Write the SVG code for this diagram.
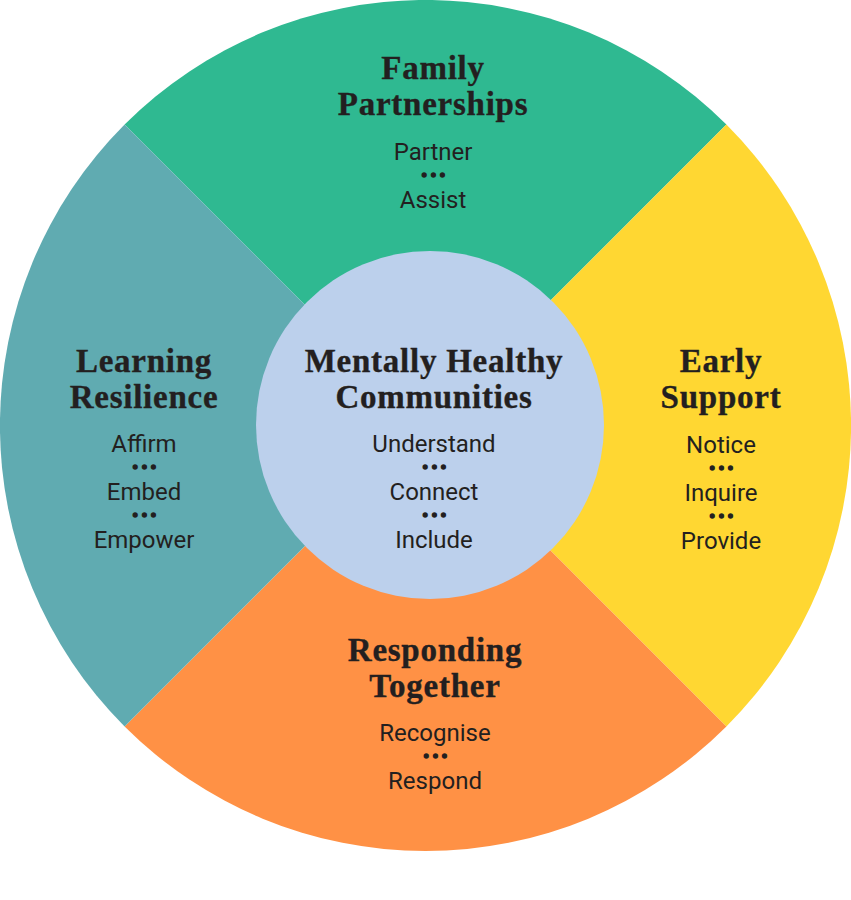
<svg xmlns="http://www.w3.org/2000/svg" width="851" height="900" viewBox="0 0 851 900">
<style>
.t{font-family:"Liberation Serif","DejaVu Serif",serif;font-weight:700;font-size:33px;fill:#231f20;stroke:#231f20;stroke-width:.35px;text-anchor:middle;letter-spacing:.75px}
.s{font-family:Roboto,"Liberation Sans",sans-serif;font-size:24px;fill:#231f20;text-anchor:middle}
.d{font-family:Roboto,"Liberation Sans",sans-serif;font-size:16px;font-weight:700;fill:#231f20;stroke:#231f20;stroke-width:1.6px;text-anchor:middle;letter-spacing:3.4px}
</style>
<g id="family-partnerships">
<path d="M425.5 425.5L124.6 124.6A425.5 425.5 0 0 1 726.4 124.6Z" fill="#2fb991"/>
<text class="t" x="433" y="79">Family</text><text class="t" x="433" y="115">Partnerships</text>
<text class="s" x="433" y="160">Partner</text><text class="d" x="435" y="181">•••</text><text class="s" x="433" y="208">Assist</text>
</g>
<g id="early-support">
<path d="M425.5 425.5L726.4 124.6A425.5 425.5 0 0 1 726.4 726.4Z" fill="#ffd732"/>
<text class="t" x="721" y="372">Early</text><text class="t" x="721" y="408">Support</text>
<text class="s" x="721" y="453">Notice</text><text class="d" x="723" y="474">•••</text><text class="s" x="721" y="501">Inquire</text><text class="d" x="723" y="522">•••</text><text class="s" x="721" y="549">Provide</text>
</g>
<g id="responding-together">
<path d="M425.5 425.5L726.4 726.4A425.5 425.5 0 0 1 124.6 726.4Z" fill="#ff9145"/>
<text class="t" x="435" y="661">Responding</text><text class="t" x="435" y="697">Together</text>
<text class="s" x="435" y="741">Recognise</text><text class="d" x="437" y="762">•••</text><text class="s" x="435" y="789">Respond</text>
</g>
<g id="learning-resilience">
<path d="M425.5 425.5L124.6 726.4A425.5 425.5 0 0 1 124.6 124.6Z" fill="#60abb1"/>
<text class="t" x="144" y="372">Learning</text><text class="t" x="144" y="408">Resilience</text>
<text class="s" x="144" y="452">Affirm</text><text class="d" x="146" y="473">•••</text><text class="s" x="144" y="500">Embed</text><text class="d" x="146" y="521">•••</text><text class="s" x="144" y="548">Empower</text>
</g>
<g id="mentally-healthy-communities">
<circle cx="430" cy="425" r="174" fill="#bcd0ec"/>
<text class="t" x="434" y="372">Mentally Healthy</text><text class="t" x="434" y="408">Communities</text>
<text class="s" x="434" y="452">Understand</text><text class="d" x="436" y="473">•••</text><text class="s" x="434" y="500">Connect</text><text class="d" x="436" y="521">•••</text><text class="s" x="434" y="548">Include</text>
</g>
<g id="connectors"></g>
</svg>
